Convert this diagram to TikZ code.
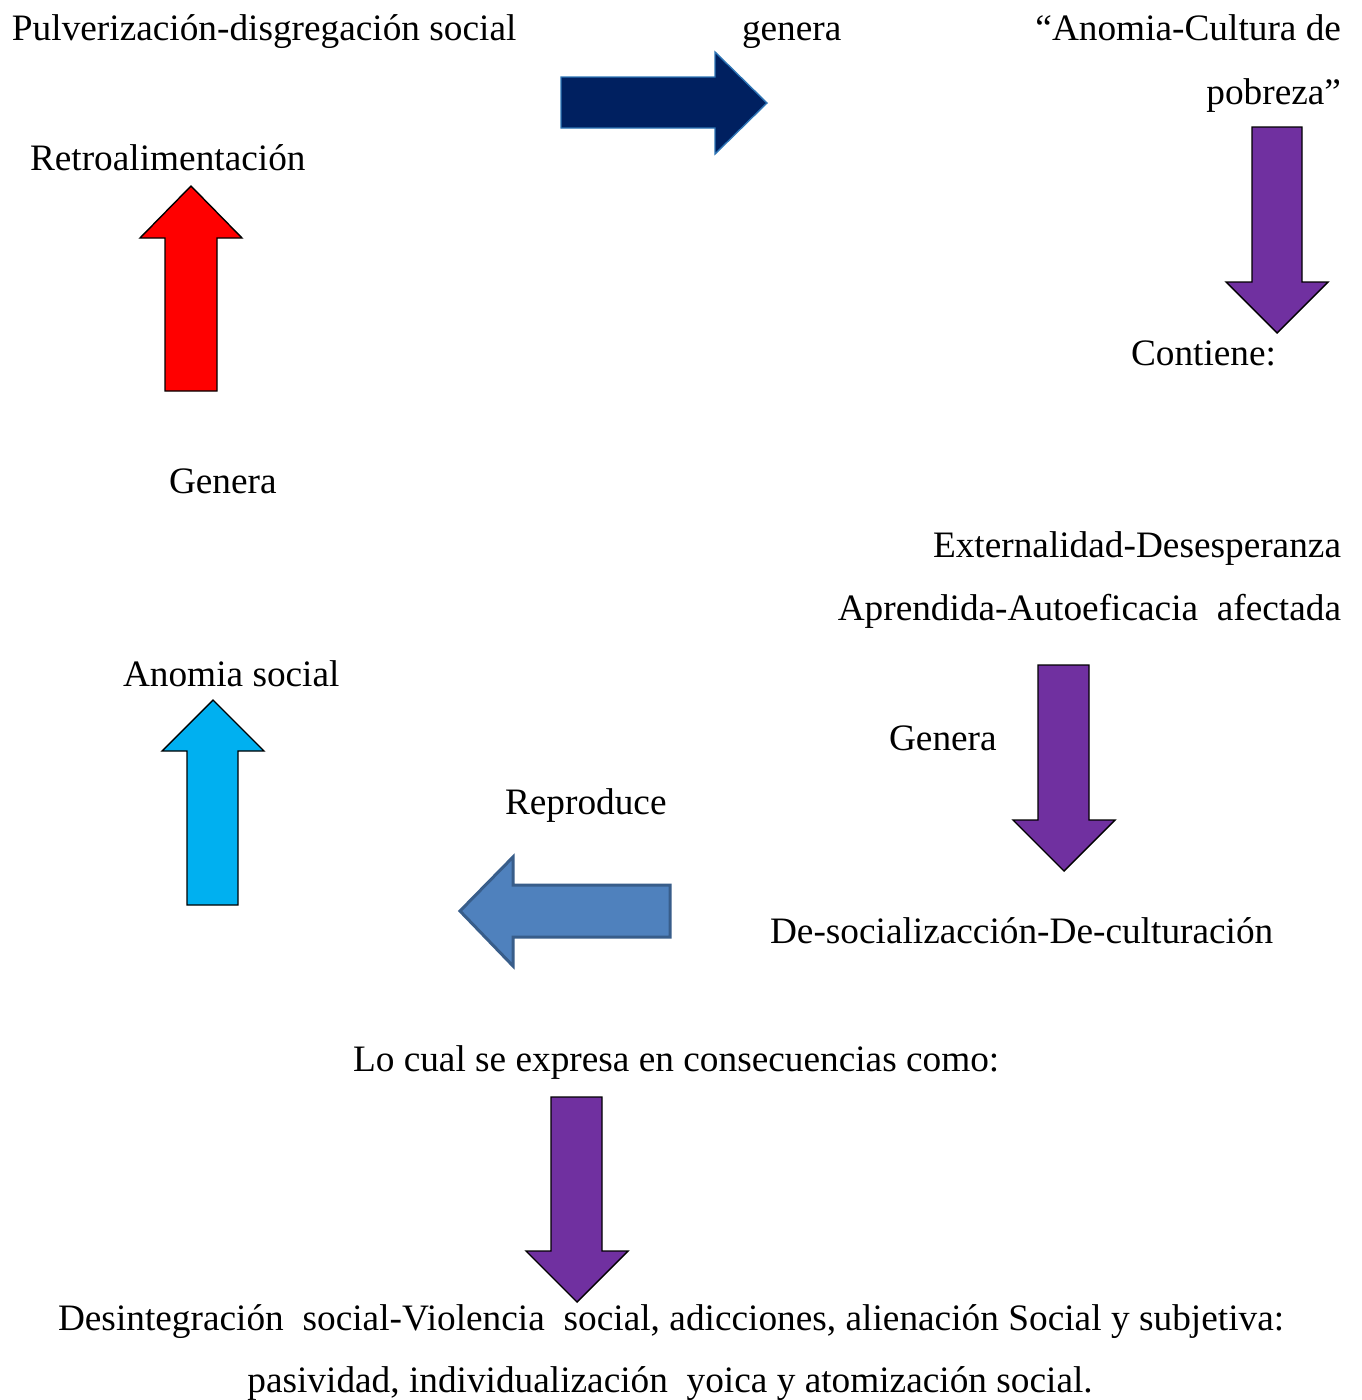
\documentclass[tikz,border=0pt]{standalone}
\usepackage{fontspec}
\setmainfont{Liberation Serif}
\definecolor{navyfill}{HTML}{002060}
\definecolor{navyline}{HTML}{2E75B6}
\definecolor{purp}{HTML}{7030A0}
\definecolor{steelfill}{HTML}{4F81BD}
\definecolor{steelline}{HTML}{385D8A}
\definecolor{cyanfill}{HTML}{00B0F0}
\begin{document}
\begin{tikzpicture}[x=1pt,y=-1pt,
  lbl/.style={inner sep=0pt,outer sep=0pt,font=\fontsize{37.3}{44}\selectfont},
  blk/.style={draw=black,line width=1.4pt,line join=miter},
  purparrow/.style={blk,fill=purp},
]
\useasboundingbox (0,0) rectangle (1362,1400);
\fill[white] (0,0) rectangle (1362,1400);

% texts
\node[lbl,anchor=base west] (pulv) at (12,40) {Pulverización-disgregación social};
\node[lbl,anchor=base west] (gen1) at (742,40) {genera};
\node[lbl,anchor=base east] (acp1) at (1341,40) {“Anomia-Cultura de};
\node[lbl,anchor=base east] (acp2) at (1341,104) {pobreza”};
\node[lbl,anchor=base west] (retro) at (30,170) {Retroalimentación};
\node[lbl,anchor=base west] (cont) at (1131,365) {Contiene:};
\node[lbl,anchor=base west] (gen2) at (169,493) {Genera};
\node[lbl,anchor=base east] (ext) at (1341,557) {Externalidad-Desesperanza};
\node[lbl,anchor=base east] (apr) at (1341,620) {Aprendida-Autoeficacia\ \ afectada};
\node[lbl,anchor=base west] (anso) at (123,686) {Anomia social};
\node[lbl,anchor=base west] (gen3) at (889,750) {Genera};
\node[lbl,anchor=base west] (repr) at (505,814) {Reproduce};
\node[lbl,anchor=base west] (desoc) at (770,943) {De-socializacción-De-culturación};
\node[lbl,anchor=base west] (locual) at (353,1071) {Lo cual se expresa en consecuencias como:};
\node[lbl,anchor=base west] (desint) at (58,1330) {\hbox to 1226pt{Desintegración\ \ social-Violencia\ \ social, adicciones, alienación Social y subjetiva:}};
\node[lbl,anchor=base] (pasiv) at (670,1392) {pasividad, individualización\ \ yoica y atomización social.};

% block arrows
\draw[fill=navyfill,draw=navyline,line width=1.4pt,line join=miter]
  (561,77) -- (715,77) -- (715,52) -- (767,103) -- (715,154) -- (715,128) -- (561,128) -- cycle;
\draw[blk,fill=red]
  (165,391) -- (165,238) -- (140,238) -- (191,186) -- (242,238) -- (217,238) -- (217,391) -- cycle;
\draw[purparrow]
  (1252,127) -- (1302,127) -- (1302,282) -- (1328,282) -- (1277,333) -- (1226,282) -- (1252,282) -- cycle;
\draw[fill=steelfill,draw=steelline,line width=3pt,line join=miter]
  (670,885) -- (513,885) -- (513,857) -- (460,911) -- (513,966) -- (513,937) -- (670,937) -- cycle;
\draw[blk,fill=cyanfill]
  (187,905) -- (187,751) -- (162,751) -- (213,700) -- (264,751) -- (238,751) -- (238,905) -- cycle;
\draw[purparrow]
  (1038,665) -- (1089,665) -- (1089,820) -- (1115,820) -- (1064,871) -- (1013,820) -- (1038,820) -- cycle;
\draw[purparrow]
  (551,1097) -- (602,1097) -- (602,1251) -- (628,1251) -- (577,1302) -- (526,1251) -- (551,1251) -- cycle;
\end{tikzpicture}
\end{document}
